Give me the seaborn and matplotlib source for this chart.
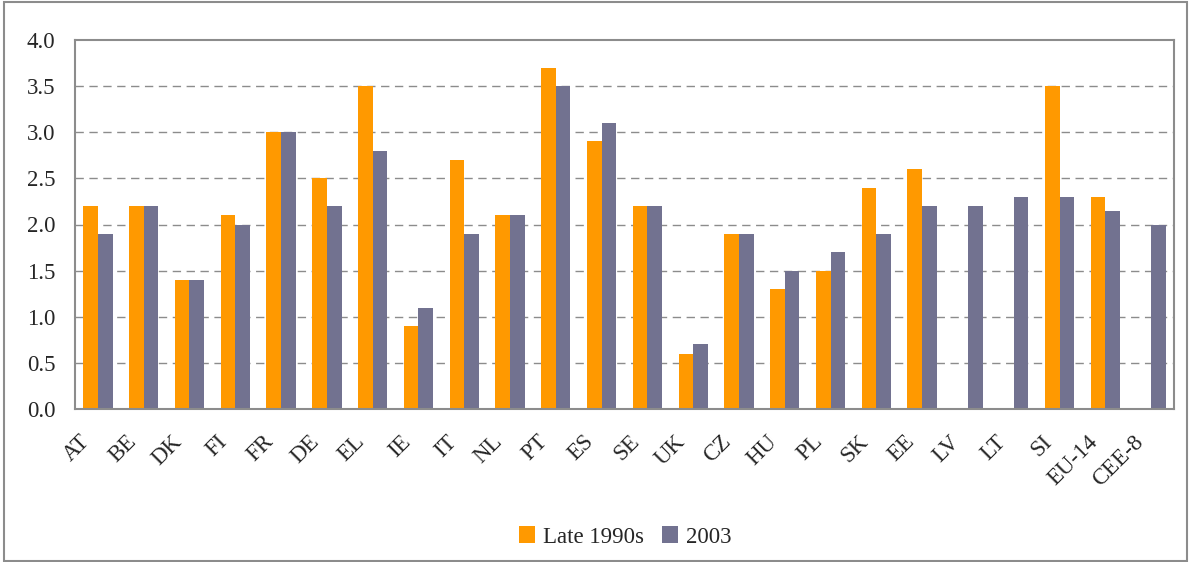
import numpy as np
import pandas as pd
import matplotlib
matplotlib.use("Agg")
import matplotlib.pyplot as plt
import matplotlib.transforms as mtransforms
from matplotlib.patches import Rectangle
import seaborn as sns

countries = ["AT", "BE", "DK", "FI", "FR", "DE", "EL", "IE", "IT", "NL", "PT", "ES",
             "SE", "UK", "CZ", "HU", "PL", "SK", "EE", "LV", "LT", "SI", "EU-14", "CEE-8"]
late_1990s = [2.2, 2.2, 1.4, 2.1, 3.0, 2.5, 3.5, 0.9, 2.7, 2.1, 3.7, 2.9,
              2.2, 0.6, 1.9, 1.3, 1.5, 2.4, 2.6, np.nan, np.nan, 3.5, 2.3, np.nan]
y2003 = [1.9, 2.2, 1.4, 2.0, 3.0, 2.2, 2.8, 1.1, 1.9, 2.1, 3.5, 3.1,
         2.2, 0.7, 1.9, 1.5, 1.7, 1.9, 2.2, 2.2, 2.3, 2.3, 2.15, 2.0]
series_names = ["Late 1990s", "2003"]
yticks = [0.0, 0.5, 1.0, 1.5, 2.0, 2.5, 3.0, 3.5, 4.0]

df = pd.DataFrame({
    "country": countries * 2,
    "value": late_1990s + y2003,
    "series": [series_names[0]] * len(countries) + [series_names[1]] * len(countries),
})

sns.set_theme(style="white")
plt.rcParams["font.family"] = ["Liberation Serif", "DejaVu Serif"]

W, H = 1192, 562
fig = plt.figure(figsize=(W / 100, H / 100), dpi=100)
ax = fig.add_axes([75 / W, 1 - 409 / H, (1174 - 75) / W, (409 - 40) / H])

palette = {"Late 1990s": "#FF9900", "2003": "#727290"}
sns.barplot(data=df, x="country", y="value", hue="series", order=countries,
            hue_order=series_names, palette=palette, width=0.64, gap=0,
            saturation=1, ax=ax, legend=True, linewidth=0)

FS = 16.5
ax.set_ylim(0, 4.0)
ax.set_xlim(-0.5, len(countries) - 0.5)
ax.set_yticks(yticks)
ax.set_yticklabels([f"{v:.1f}" for v in yticks], fontsize=FS)
ax.set_xlabel("")
ax.set_ylabel("")

for v in yticks[1:-1]:
    ax.axhline(v, color="#8c8c8c", linestyle=(0, (6, 4)), linewidth=1.0, zorder=0)

for s in ax.spines.values():
    s.set_color("#8c8c8c")
    s.set_linewidth(1.5)

ax.tick_params(axis="y", length=0, pad=14)
ax.tick_params(axis="x", which="major", length=0, pad=4)
ax.set_xticks(np.arange(-0.5, len(countries), 1.0), minor=True)
ax.tick_params(axis="x", which="minor", direction="in", length=5, color="#8c8c8c", width=1)

ax.set_xticks(range(len(countries)))
ax.set_xticklabels(countries, fontsize=FS, rotation=45, ha="right",
                   rotation_mode="anchor", va="center")
offset = mtransforms.ScaledTranslation(-11 / 100, -24 / 100, fig.dpi_scale_trans)
for lab in ax.get_xticklabels():
    lab.set_transform(lab.get_transform() + offset)

handles, labels = ax.get_legend_handles_labels()
ax.legend_.remove()
fig.legend(handles, labels, loc="center", bbox_to_anchor=(625 / W, 1 - 537 / H),
           ncol=2, frameon=False, fontsize=FS, handlelength=0.7, handleheight=0.7,
           handletextpad=0.35, columnspacing=0.8)

fig.patches.append(Rectangle((4 / W, 1 / H), (1187 - 4) / W, (561 - 2) / H,
                             transform=fig.transFigure, fill=False,
                             edgecolor="#8c8c8c", linewidth=1.5))

fig.savefig("out.png", dpi=100)
